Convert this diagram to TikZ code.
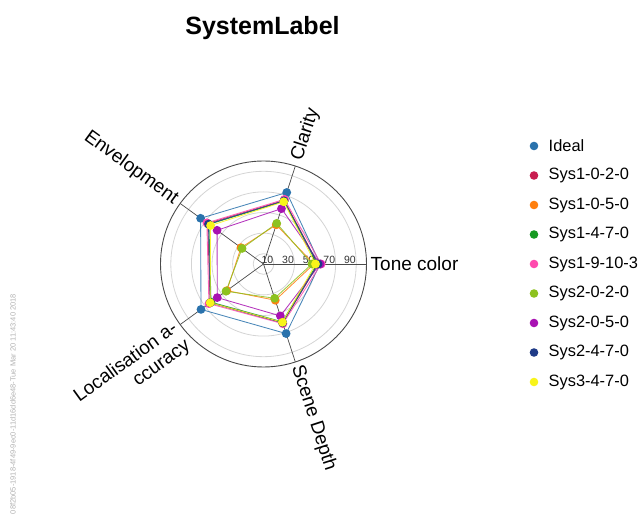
\documentclass[tikz,border=0pt]{standalone}
\usepackage{fontspec}
\setmainfont{Liberation Sans}
\definecolor{cIdeal}{HTML}{2A72AC}
\definecolor{cRed}{HTML}{C81D50}
\definecolor{cOrange}{HTML}{FF7F0E}
\definecolor{cGreen}{HTML}{169A22}
\definecolor{cPink}{HTML}{FF4AAE}
\definecolor{cOlive}{HTML}{8DC21F}
\definecolor{cPurple}{HTML}{A812B2}
\definecolor{cNavy}{HTML}{1F3B87}
\definecolor{cYellow}{HTML}{F8F41A}
\definecolor{gridgray}{HTML}{D4D4D4}
\definecolor{axisgray}{HTML}{4A4A4A}
\newcommand\radsc{1.03}
\newcommand\radarseries[7]{%
  \path (0:{#4*\radsc}) coordinate (#1T)
        (72:{#3*\radsc}) coordinate (#1C)
        (144:{#5*\radsc}) coordinate (#1E)
        (216:{#6*\radsc}) coordinate (#1L)
        (288:{#7*\radsc}) coordinate (#1D);
  \draw[serline, draw=#2] (#1T) -- (#1C) -- (#1E) -- (#1L) -- (#1D) -- cycle;
  \foreach \p in {T,C,E,L,D} {\fill[#2] (#1\p) circle (4.4);}
}
\tikzset{
  serline/.style={line width=0.85pt, opacity=0.85},
  axlabel/.style={font=\fontsize{19}{21.5}\selectfont, inner sep=1pt},
  ticklabel/.style={font=\fontsize{10.5}{12}\selectfont, text=black!80, inner sep=0.3pt, anchor=south east},
  legtext/.style={font=\fontsize{16.4}{19}\selectfont, anchor=west, inner sep=0pt},
  legdot/.style={circle, inner sep=0pt, minimum size=8.6pt},
}
\begin{document}
\begin{tikzpicture}[x=1pt,y=1pt]
\useasboundingbox (0,0) rectangle (642,527);
\node[font=\bfseries\fontsize{25}{30}\selectfont] (title) at (262.5,499) {SystemLabel};
\begin{scope}[shift={(263.5,263)}]
  \coordinate (O) at (0,0);
  \foreach \v in {10,30,50,70,90} {\draw[gridgray, line width=0.8pt] (O) circle ({\v*\radsc});}
  \draw[axisgray, line width=0.9pt] (O) circle ({100*\radsc});
  \foreach \a/\n in {0/T,72/C,144/E,216/L,288/D} {
    \path (\a:{100*\radsc}) coordinate (ax\n);
    \draw[axisgray, line width=0.7pt] (O) -- (ax\n);
  }
  \foreach \v in {10,30,50,70,90} {\node[ticklabel] (tk\v) at ({\v*\radsc},-0.6) {\v};}
  \node[axlabel, anchor=west, rotate=72] (labC) at (72:108) {Clarity};
  \node[axlabel, anchor=west] (labT) at (0:106) {Tone color};
  \node[axlabel, anchor=west, rotate=-72] (labD) at (288:106) {Scene Depth};
  \node[axlabel, anchor=east, rotate=-36] (labE) at (144:107) {Envelopment};
  \node[axlabel, anchor=east, rotate=36, align=right] (labL) at ({107*cos(216)+5.9},{107*sin(216)-8.1}) {Localisation a-\\ccuracy};
  % name, colour, Clarity, Tone, Envelopment, Localisation, Depth
  \radarseries{s0}{cIdeal}{73}{55}{75.5}{75}{71}
  \radarseries{s1}{cRed}{65}{53}{67}{64}{60}
  \radarseries{s2}{cOrange}{40}{49}{27}{44}{37}
  \radarseries{s3}{cGreen}{64}{52}{65.5}{63}{59}
  \radarseries{s4}{cPink}{66}{56}{68}{65.5}{61}
  \radarseries{s5}{cOlive}{41.5}{47}{25.7}{45}{35}
  \radarseries{s6}{cPurple}{56.5}{55}{55.7}{55.5}{53}
  \radarseries{s7}{cNavy}{64.5}{53}{66}{64}{60}
  \radarseries{s8}{cYellow}{63.5}{50.5}{63.5}{64}{59.5}
\end{scope}
% legend
\foreach \i/\c/\t in {0/cIdeal/Ideal,1/cRed/Sys1-0-2-0,2/cOrange/Sys1-0-5-0,3/cGreen/Sys1-4-7-0,4/cPink/Sys1-9-10-3,5/cOlive/Sys2-0-2-0,6/cPurple/Sys2-0-5-0,7/cNavy/Sys2-4-7-0,8/cYellow/Sys3-4-7-0} {
  \node[legdot, fill=\c] (ld\i) at (534,{527-146-29.5*\i}) {};
  \node[legtext] (lt\i) at (548.5,{527-146-29.5*\i}) {\t};
}
\node[rotate=90, font=\fontsize{7.5}{8}\selectfont, text=black!30] (stamp) at (13,{527-404}) {08f2b05-1918-4f49-9ec0-11d16dd6e48-Tue Mar 20 11:43:40 2018};
\end{tikzpicture}
\end{document}
